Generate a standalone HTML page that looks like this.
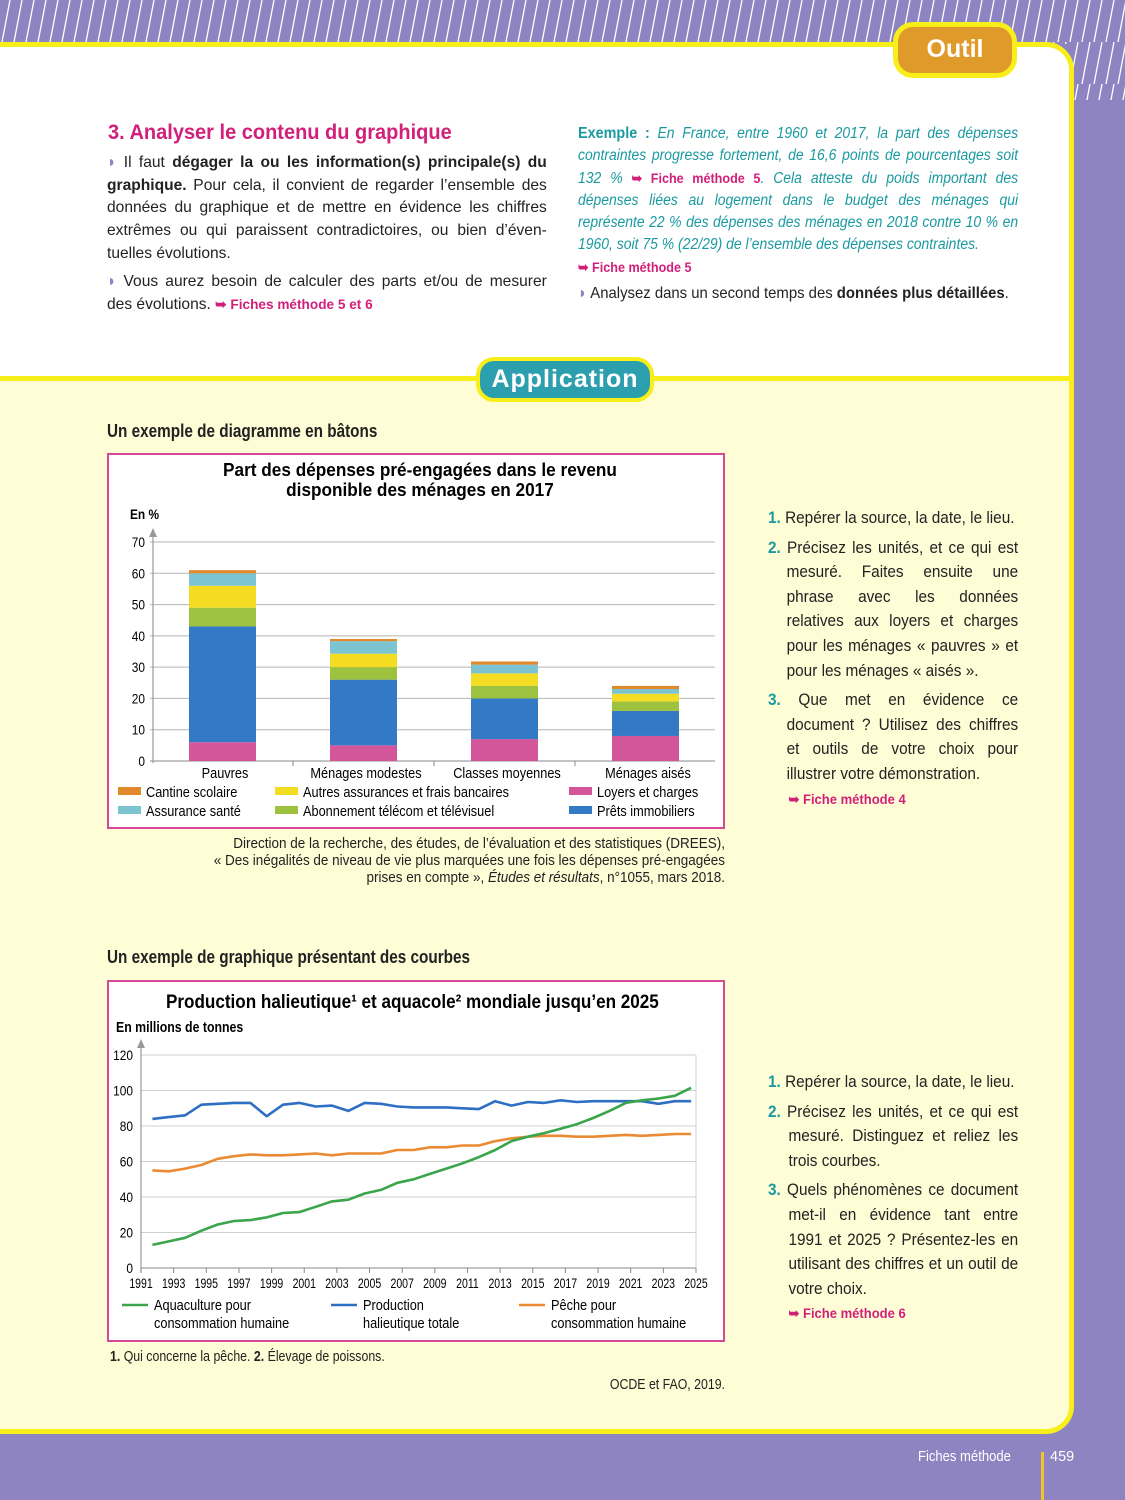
<!DOCTYPE html>
<html><head><meta charset="utf-8">
<style>
*{margin:0;padding:0;box-sizing:border-box}
body{width:1125px;height:1500px;position:relative;overflow:hidden;background:#8f84c2;font-family:"Liberation Sans",sans-serif;color:#222}
.abs{position:absolute}
.sq{transform-origin:0 0}
.txt{font-size:16px;line-height:22.7px;text-align:justify}
.ex{color:#1a9aa0;font-style:italic;font-size:15.5px;line-height:22px;text-align:justify}
.ref{color:#d21f7a;font-weight:bold;font-style:normal;font-size:14px}
.q{font-size:16.5px;line-height:24.6px;text-align:justify}
.q b.n{color:#1a9aa0}
</style></head><body>
<svg class="abs" style="left:0;top:0" width="1125" height="110">
<defs><pattern id="st" width="12" height="42" patternUnits="userSpaceOnUse"><line x1="10" y1="0" x2="2" y2="42" stroke="#fff" stroke-width="1.3"/></pattern></defs>
<rect width="1125" height="44" fill="url(#st)"/>
<rect x="1072" y="44" width="53" height="56" fill="url(#st)"/>
</svg>
<div class="abs" style="left:-10px;top:42px;width:1084px;height:345px;background:#fff;border:5px solid #f7ee1a;border-radius:0 28px 0 0"></div>
<div class="abs" style="left:893px;top:22px;width:124px;height:56px;background:#e09a2a;border:5px solid #f7ee1a;border-radius:20px;color:#fff;font-weight:bold;font-size:25px;text-align:center;line-height:44px">Outil</div>

<div class="abs sq" style="left:108px;top:120px;color:#d21f7a;font-weight:bold;font-size:21.5px;transform:scaleX(.93)">3. Analyser le contenu du graphique</div>
<div class="abs txt sq" style="left:107px;top:152px;width:452px;transform:scaleX(.973)">
<p><span style="color:#8f84c2">◗</span> Il faut <b>dégager la ou les information(s) principale(s) du graphique.</b> Pour cela, il convient de regarder l’ensemble des données du graphique et de mettre en évidence les chiffres extrêmes ou qui paraissent contradictoires, ou bien d’éven-tuelles évolutions.</p>
<p style="margin-top:5px"><span style="color:#8f84c2">◗</span> Vous aurez besoin de calculer des parts et/ou de mesurer des évolutions. <span class="ref">➥ Fiches méthode 5 et 6</span></p>
</div>
<div class="abs ex sq" style="left:578px;top:123px;width:489px;transform:scaleX(.9)">
<b style="font-style:normal;font-size:16px">Exemple :</b> En France, entre 1960 et 2017, la part des dépenses contraintes progresse fortement, de 16,6 points de pourcentages soit 132 % <span class="ref">➥ Fiche méthode 5</span>. Cela atteste du poids important des dépenses liées au logement dans le budget des ménages qui représente 22 % des dépenses des ménages en 2018 contre 10 % en 1960, soit 75 % (22/29) de l’ensemble des dépenses contraintes.<br><span class="ref">➥ Fiche méthode 5</span>
</div>
<div class="abs sq" style="left:578px;top:285px;font-size:16px;transform:scaleX(.93);white-space:nowrap"><span style="color:#8f84c2">◗</span> Analysez dans un second temps des <b>données plus détaillées</b>.</div>

<div class="abs" style="left:-10px;top:376px;width:1084px;height:1058px;background:#fefdd6;border:5px solid #f7ee1a;border-radius:0 0 28px 0"></div>
<div class="abs" style="left:476px;top:357px;width:178px;height:45px;background:#2c9fae;border:4px solid #f7ee1a;border-radius:18px;color:#fff;font-weight:bold;font-size:25px;text-align:center;line-height:36px;letter-spacing:1px">Application</div>

<div class="abs sq" style="left:107px;top:421px;font-size:18px;font-weight:bold;transform:scaleX(.85);white-space:nowrap">Un exemple de diagramme en bâtons</div>
<div class="abs" style="left:107px;top:453px;width:618px;height:376px;background:#fff;border:2px solid #d6489a"></div>
<svg class="abs" id="barsvg" style="left:0;top:0" width="1125" height="900"></svg>
<div class="abs" style="left:25px;top:836px;width:700px;text-align:right;font-size:14.5px;line-height:17px;transform:scaleX(.93);transform-origin:100% 0">Direction de la recherche, des études, de l’évaluation et des statistiques (DREES),<br>« Des inégalités de niveau de vie plus marquées une fois les dépenses pré-engagées<br>prises en compte », <i>Études et résultats</i>, n°1055, mars 2018.</div>

<div class="abs q sq" style="left:768px;top:506px;width:269px;transform:scaleX(.93)">
<p><b class="n">1.</b> Repérer la source, la date, le lieu.</p>
<p style="margin-top:5px;padding-left:20px;text-indent:-20px"><b class="n">2.</b> Précisez les unités, et ce qui est mesuré. Faites ensuite une phrase avec les données relatives aux loyers et charges pour les ménages « pauvres » et pour les ménages « aisés ».</p>
<p style="margin-top:5px;padding-left:20px;text-indent:-20px"><b class="n">3.</b> Que met en évidence ce document ? Utilisez des chiffres et outils de votre choix pour illustrer votre démonstration.</p>
<p style="padding-left:22px"><span class="ref">➥ Fiche méthode 4</span></p>
</div>

<div class="abs sq" style="left:107px;top:947px;font-size:18px;font-weight:bold;transform:scaleX(.85);white-space:nowrap">Un exemple de graphique présentant des courbes</div>
<div class="abs" style="left:107px;top:980px;width:618px;height:362px;background:#fff;border:2px solid #d6489a"></div>
<svg class="abs" id="linesvg" style="left:0;top:0" width="1125" height="1400"></svg>
<div class="abs sq" style="left:110px;top:1349px;font-size:14.5px;transform:scaleX(.85);white-space:nowrap"><b>1.</b> Qui concerne la pêche. <b>2.</b> Élevage de poissons.</div>
<div class="abs" style="left:500px;top:1377px;width:225px;text-align:right;font-size:14.5px;transform:scaleX(.85);transform-origin:100% 0">OCDE et FAO, 2019.</div>

<div class="abs q sq" style="left:768px;top:1070px;width:269px;transform:scaleX(.93)">
<p><b class="n">1.</b> Repérer la source, la date, le lieu.</p>
<p style="margin-top:5px;padding-left:22px;text-indent:-22px"><b class="n">2.</b> Précisez les unités, et ce qui est mesuré. Distinguez et reliez les trois courbes.</p>
<p style="margin-top:5px;padding-left:22px;text-indent:-22px"><b class="n">3.</b> Quels phénomènes ce document met-il en évidence tant entre 1991 et 2025 ? Présentez-les en utilisant des chiffres et un outil de votre choix.</p>
<p style="padding-left:22px"><span class="ref">➥ Fiche méthode 6</span></p>
</div>

<div class="abs" style="left:918px;top:1449px;color:#fff;font-size:14.5px;transform:scaleX(.9);transform-origin:0 0">Fiches méthode</div>
<div class="abs" style="left:1041px;top:1452px;width:3px;height:48px;background:#f0c52a"></div>
<div class="abs" style="left:1050px;top:1449px;color:#fff;font-size:14.5px">459</div>

<script>
const NS="http://www.w3.org/2000/svg";
function mk(p,t,a,txt){const e=document.createElementNS(NS,t);for(const k in a)e.setAttribute(k,a[k]);if(txt!==undefined)e.textContent=txt;p.appendChild(e);return e;}
const NF='"Liberation Sans",sans-serif';
function tx(p,x,y,str,size,opts){
 opts=opts||{};
 const sx=opts.sx||0.85;
 const a={x:x,y:y,'font-family':NF,'font-size':size,transform:'translate('+x+',0) scale('+sx+',1) translate('+(-x)+',0)'};
 if(opts.anchor)a['text-anchor']=opts.anchor;
 if(opts.bold)a['font-weight']='bold';
 return mk(p,'text',a,str);
}

// ---- Bar chart data ----
const barCategories=["Pauvres","Ménages modestes","Classes moyennes","Ménages aisés"];
const loyers=[6,5,7,8];
const prets=[37,21,13,8];
const telecom=[6,4,4,3];
const autresAssur=[7,4.3,4,2.5];
const santé=[4,4,2.8,1.5];
const cantine=[1,0.7,1,1];
const barTicks=[0,10,20,30,40,50,60,70];

// ---- Line chart data ----
const lineYears=[1991.7,1992.7,1993.7,1994.7,1995.7,1996.7,1997.7,1998.7,1999.7,2000.7,2001.7,2002.7,2003.7,2004.7,2005.7,2006.7,2007.7,2008.7,2009.7,2010.7,2011.7,2012.7,2013.7,2014.7,2015.7,2016.7,2017.7,2018.7,2019.7,2020.7,2021.7,2022.7,2023.7,2024.7];
const aquaculture=[13,15,17,21,24.5,26.5,27,28.5,31,31.5,34.5,37.5,38.5,42,44,48,50,53,56,59,62.5,66.5,71.5,74,76,78.5,81,84.5,88.5,93,94.5,95.5,97,101.5];
const productionTotale=[84,85,86,92,92.5,93,93,85.5,92,93,91,91.5,88.5,93,92.5,91,90.5,90.5,90.5,90,89.5,94,91.5,93.5,93,94.5,93.5,94,94,94,94,92.5,94,94];
const peche=[55,54.5,56,58,61.5,63,64,63.5,63.5,64,64.5,63.5,64.5,64.5,64.5,66.5,66.5,68,68,69,69,71.5,73,74,74.5,74.5,74,74,74.5,75,74.5,75,75.5,75.5];
const lineXTicks=[1991,1993,1995,1997,1999,2001,2003,2005,2007,2009,2011,2013,2015,2017,2019,2021,2023,2025];
const lineYTicks=[0,20,40,60,80,100,120];

// Bar chart
(function(){
const s=document.getElementById('barsvg');
const y=v=>761-v*(761-542)/70;
const cx=i=>222+i*141;
tx(s,420,476,"Part des dépenses pré-engagées dans le revenu",18.5,{anchor:'middle',bold:true,sx:0.93});
tx(s,420,496,"disponible des ménages en 2017",18.5,{anchor:'middle',bold:true,sx:0.93});
tx(s,130,519,"En %",14,{bold:true});
barTicks.forEach(t=>{
 const g=mk(s,'line',{x1:150,x2:715,y1:y(t),y2:y(t),stroke:t?'#b5b5b5':'#888','stroke-width':1});
 
 const l=tx(s,145,y(t)+5,String(t),14,{anchor:'end'});
 
});
mk(s,'line',{x1:153,x2:153,y1:534,y2:763,stroke:'#999','stroke-width':1.2});
mk(s,'path',{d:'M149,537 L153,528 L157,537 Z',fill:'#999'});
for(let i=1;i<4;i++)mk(s,'line',{x1:152+i*141,x2:152+i*141,y1:761,y2:766,stroke:'#888'});
const series=[[loyers,'#d4569a'],[prets,'#3479c6'],[telecom,'#9dc23f'],[autresAssur,'#f4dc22'],[santé,'#7cc4d2'],[cantine,'#e08a2c']];
barCategories.forEach((c,i)=>{
 let acc=0;
 series.forEach(([arr,col])=>{
  const r=mk(s,'rect',{x:cx(i)-33,width:67,y:y(acc+arr[i]),height:y(acc)-y(acc+arr[i]),fill:col});
  
  acc+=arr[i];
 });
 const l=tx(s,cx(i)+3,778,c,15,{anchor:'middle'});
 
});
const leg=[["Cantine scolaire",'#e08a2c',118,793],["Assurance santé",'#7cc4d2',118,812],["Autres assurances et frais bancaires",'#f4dc22',275,793],["Abonnement télécom et télévisuel",'#9dc23f',275,812],["Loyers et charges",'#d4569a',569,793],["Prêts immobiliers",'#3479c6',569,812]];
leg.forEach(([t,c,x,yy])=>{
 const r=mk(s,'rect',{x:x,y:yy-6,width:23,height:8,fill:c});
 
 const l=tx(s,x+28,yy+4,t,15);
 
});
})();

// Line chart
(function(){
const s=document.getElementById('linesvg');
const x=v=>141+(v-1991)*(696-141)/34;
const y=v=>1268-v*(1268-1055)/120;
tx(s,166,1008,"Production halieutique¹ et aquacole² mondiale jusqu’en 2025",19,{bold:true,sx:0.9});
tx(s,116,1032,"En millions de tonnes",14.5,{bold:true});
lineYTicks.forEach(t=>{
 const g=mk(s,'line',{x1:141,x2:696,y1:y(t),y2:y(t),stroke:t?'#cfcfcf':'#888','stroke-width':1});
 
 const l=tx(s,133,y(t)+5,String(t),14,{anchor:'end'});
 
});
mk(s,'line',{x1:696,x2:696,y1:1055,y2:1268,stroke:'#cfcfcf'});
mk(s,'line',{x1:141,x2:141,y1:1045,y2:1272,stroke:'#999','stroke-width':1.2});
mk(s,'path',{d:'M137,1048 L141,1039 L145,1048 Z',fill:'#999'});
lineXTicks.forEach(t=>{
 mk(s,'line',{x1:x(t),x2:x(t),y1:1268,y2:1273,stroke:'#888'});
 const l=tx(s,x(t),1288,String(t),14,{anchor:'middle',sx:0.75});
 
});
const ser=[[productionTotale,'#2e6fc4','production-totale-line'],[peche,'#ea8a32','peche-line'],[aquaculture,'#3aa54a','aquaculture-line']];
ser.forEach(([arr,c,n])=>{
 const d=arr.map((v,i)=>(i?'L':'M')+x(lineYears[i]).toFixed(1)+','+y(v).toFixed(1)).join(' ');
 const p=mk(s,'path',{d:d,fill:'none',stroke:c,'stroke-width':2.6,'stroke-linejoin':'round'});
 
});
const leg=[["Aquaculture pour","consommation humaine",'#3aa54a',122],["Production","halieutique totale",'#2e6fc4',331],["Pêche pour","consommation humaine",'#ea8a32',519]];
leg.forEach(([a,b,c,lx])=>{
 mk(s,'line',{x1:lx,x2:lx+26,y1:1305,y2:1305,stroke:c,'stroke-width':2.6});
 const l=tx(s,lx+32,1310,a,15);
 
 tx(s,lx+32,1328,b,15);
});
})();
</script>
</body></html>
